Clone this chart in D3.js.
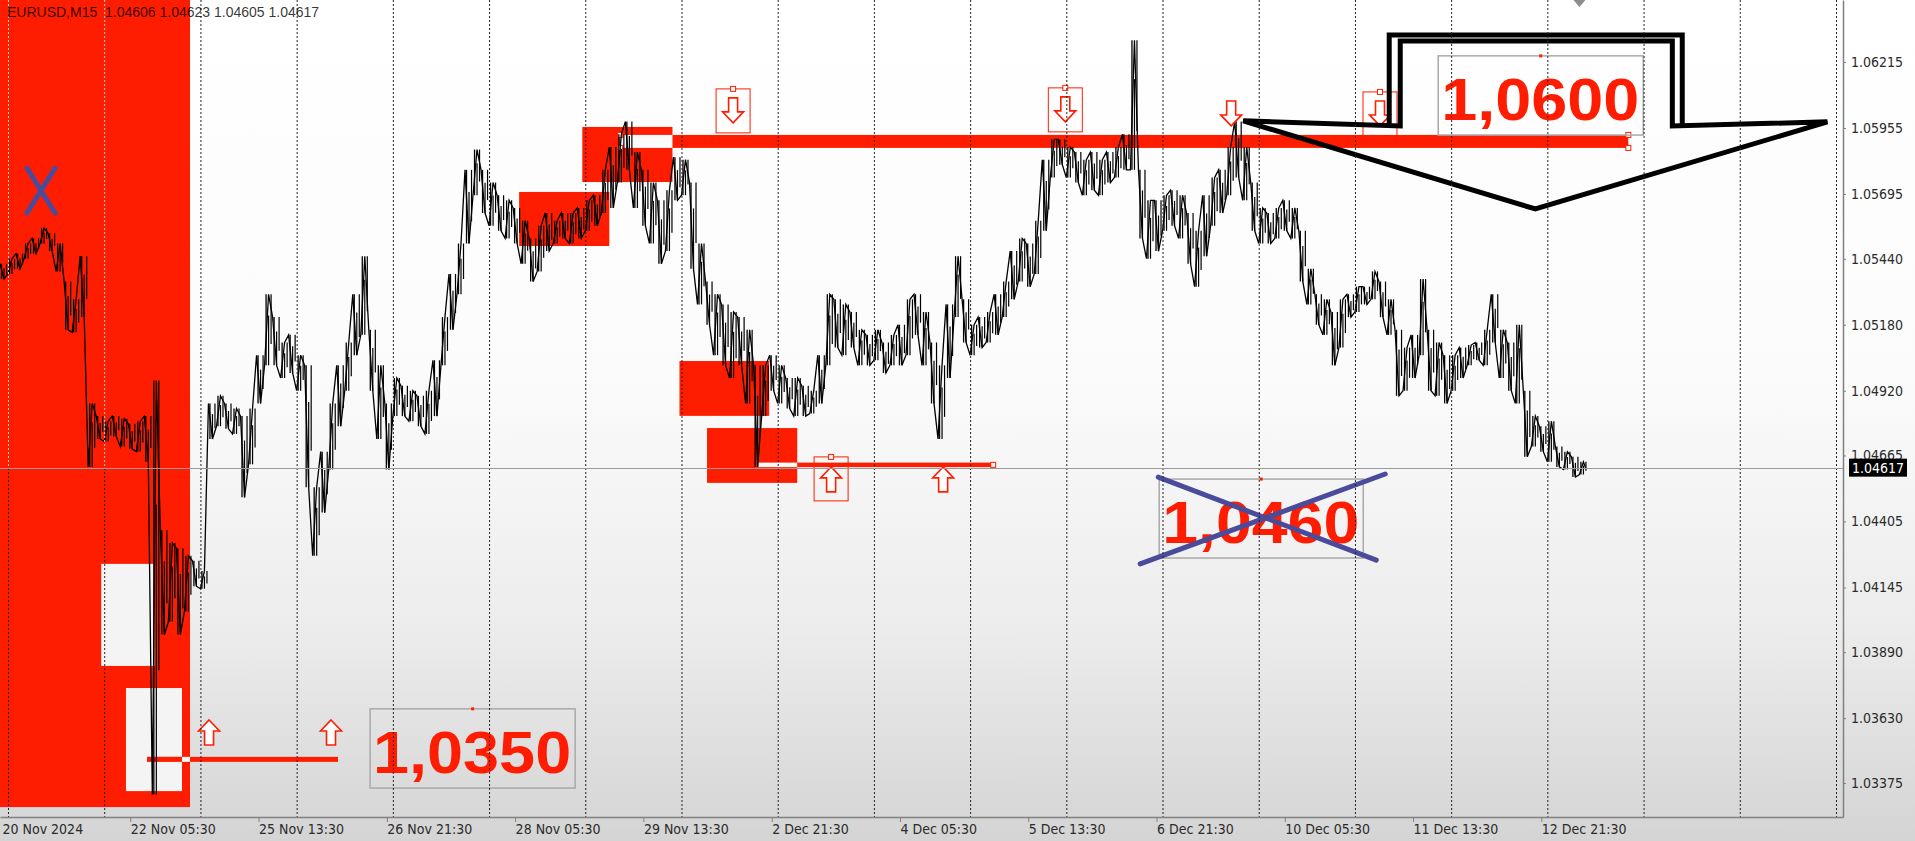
<!DOCTYPE html>
<html><head><meta charset="utf-8">
<script src="https://cdn.jsdelivr.net/npm/d3@7"></script>
<style>html,body{margin:0;padding:0;background:#fff;overflow:hidden}</style>
</head><body><svg id="c" width="1915" height="841"></svg>
<script>
// ---------------- DATA ----------------
const headerText = "EURUSD,M15  1.04606 1.04623 1.04605 1.04617";
const barStep = 8;            // M15 bars between samples
const highs = [
1.0542,1.0544,1.0546,1.0550,1.0552,1.0556,1.0554,1.0550,1.0535,1.0528,
1.0545,1.0487,1.0482,1.0480,1.0482,1.0481,1.0479,1.0480,1.0482,1.0496,
1.0437,1.0432,1.0430,1.0427,1.0425,1.0421,1.0487,1.0490,1.0487,1.0485,
1.0482,1.0485,1.0506,1.0530,1.0521,1.0511,1.0514,1.0506,1.0502,1.0454,
1.0468,1.0487,1.0502,1.0511,1.0530,1.0545,1.0516,1.0502,1.0487,1.0497,
1.0494,1.0492,1.0490,1.0492,1.0504,1.0521,1.0538,1.0550,1.0579,1.0587,
1.0579,1.0574,1.0569,1.0567,1.0564,1.0559,1.0552,1.0557,1.0562,1.0559,
1.0562,1.0562,1.0564,1.0567,1.0569,1.0579,1.0588,1.0593,1.0598,1.0586,
1.0579,1.0574,1.0567,1.0571,1.0584,1.0583,1.0574,1.0550,1.0535,1.0530,
1.0526,1.0523,1.0521,1.0516,1.0502,1.0502,1.0506,1.0502,1.0497,1.0497,
1.0494,1.0492,1.0506,1.0530,1.0528,1.0526,1.0523,1.0516,1.0514,1.0516,
1.0511,1.0514,1.0518,1.0528,1.0530,1.0523,1.0511,1.0502,1.0526,1.0545,
1.0528,1.0518,1.0521,1.0523,1.0530,1.0535,1.0547,1.0552,1.0550,1.0559,
1.0583,1.0591,1.0591,1.0588,1.0586,1.0583,1.0586,1.0583,1.0586,1.0588,
1.0593,1.0630,1.0579,1.0567,1.0567,1.0569,1.0571,1.0569,1.0562,1.0555,
1.0569,1.0576,1.0579,1.0588,1.0598,1.0588,1.0574,1.0564,1.0562,1.0564,
1.0567,1.0564,1.0555,1.0540,1.0530,1.0528,1.0523,1.0528,1.0530,1.0533,
1.0533,1.0539,1.0535,1.0528,1.0516,1.0509,1.0514,1.0536,1.0516,1.0511,
1.0506,1.0506,1.0509,1.0510,1.0511,1.0516,1.0530,1.0516,1.0511,1.0518,
1.0492,1.0482,1.0478,1.0480,1.0470,1.0468,1.0466,1.0464];
const lows = [
1.0536,1.0538,1.0540,1.0544,1.0546,1.0550,1.0547,1.0539,1.0516,1.0515,
1.0521,1.0462,1.0473,1.0472,1.0474,1.0470,1.0469,1.0468,1.0464,1.0333,
1.0396,1.0401,1.0396,1.0405,1.0415,1.0414,1.0473,1.0478,1.0477,1.0475,
1.0450,1.0463,1.0487,1.0502,1.0502,1.0497,1.0499,1.0492,1.0454,1.0427,
1.0444,1.0461,1.0478,1.0492,1.0506,1.0514,1.0492,1.0473,1.0461,1.0482,
1.0482,1.0480,1.0478,1.0475,1.0482,1.0502,1.0516,1.0530,1.0550,1.0569,
1.0562,1.0557,1.0555,1.0552,1.0550,1.0542,1.0535,1.0539,1.0547,1.0550,
1.0552,1.0550,1.0552,1.0555,1.0557,1.0562,1.0564,1.0574,1.0579,1.0564,
1.0557,1.0550,1.0542,1.0547,1.0567,1.0569,1.0540,1.0526,1.0518,1.0506,
1.0502,1.0497,1.0502,1.0487,1.0462,1.0482,1.0492,1.0487,1.0485,1.0482,
1.0482,1.0483,1.0487,1.0502,1.0509,1.0506,1.0509,1.0502,1.0502,1.0504,
1.0499,1.0502,1.0502,1.0506,1.0514,1.0502,1.0487,1.0473,1.0497,1.0521,
1.0511,1.0506,1.0509,1.0511,1.0514,1.0521,1.0528,1.0535,1.0533,1.0538,
1.0555,1.0576,1.0581,1.0576,1.0574,1.0569,1.0571,1.0569,1.0574,1.0576,
1.0579,1.0579,1.0552,1.0544,1.0547,1.0555,1.0557,1.0552,1.0542,1.0533,
1.0545,1.0557,1.0562,1.0569,1.0576,1.0567,1.0555,1.0550,1.0550,1.0552,
1.0555,1.0552,1.0535,1.0526,1.0518,1.0514,1.0502,1.0509,1.0521,1.0523,
1.0526,1.0528,1.0521,1.0514,1.0490,1.0492,1.0497,1.0506,1.0492,1.0490,
1.0487,1.0492,1.0497,1.0502,1.0504,1.0502,1.0511,1.0497,1.0492,1.0487,
1.0466,1.0470,1.0468,1.0464,1.0462,1.0461,1.0458,1.0459];
const lastPrice = 1.04617;
const priceTicks = [1.06215,1.05955,1.05695,1.05440,1.05180,1.04920,1.04665,1.04405,1.04145,1.03890,1.03630,1.03375];
const timeLabels = ["20 Nov 2024","22 Nov 05:30","25 Nov 13:30","26 Nov 21:30","28 Nov 05:30","29 Nov 13:30","2 Dec 21:30","4 Dec 05:30","5 Dec 13:30","6 Dec 21:30","10 Dec 05:30","11 Dec 13:30","12 Dec 21:30"];
const firstLabelBar = 130, barsPerLabel = 128;   // 32h of M15 bars
const firstGridBar = 8, barsPerGrid = 96;         // 24h of M15 bars
const totalBars = 1839;
const priceRange = [1.03241, 1.06459];

// chart objects (time in bars, price)
const redZones = [
  {b0:0, b1:189.6, lo:1.0328, hi:1.0650},
  {b0:518, b1:608, lo:1.05490, hi:1.05703},
  {b0:581, b1:671, lo:1.05742, hi:1.05959},
  {b0:678, b1:767.5, lo:1.04821, hi:1.05037},
  {b0:705.5, b1:795.5, lo:1.04557, hi:1.04773}];
const whiteZones = [
  {b0:101, b1:154.7, lo:1.03836, hi:1.04238},
  {b0:125.7, b1:181.6, lo:1.03343, hi:1.03749}];
const hLines = [
  {b0:146.7, b1:337.3, price:1.03468, w:5},
  {b0:618.8, b1:1624.8, price:1.05902, w:13, handles:true},
  {b0:755.5, b1:991, price:1.04628, w:4.5, handles:true}];
const arrowsDown = [
  {bar:731.5, price:1.05975, boxed:true},
  {bar:1063, price:1.05979, boxed:true},
  {bar:1228.5, price:1.05963, boxed:false},
  {bar:1377, price:1.05963, boxed:true}];
const arrowsUp = [
  {bar:208.6, price:1.03623, boxed:false},
  {bar:330.3, price:1.03623, boxed:false},
  {bar:829.3, price:1.04620, boxed:true},
  {bar:941.1, price:1.04620, boxed:false}];
const textBoxes = [
  {text:"1,0350", b0:369.3, b1:573.9, lo:1.03355, hi:1.03667},
  {text:"1,0600", b0:1435.1, b1:1639.7, lo:1.05927, hi:1.06239},
  {text:"1,0460", b0:1156.7, b1:1360.3, lo:1.04261, hi:1.04572}];
const crossLines = [
  [[26.9,1.05797],[54.9,1.05620]], [[54.9,1.05797],[26.9,1.05620]],
  [[1155.7,1.04580],[1373.3,1.04253]], [[1137.7,1.04238],[1382.2,1.04592]]];
const bigArrowOuter = [[1240.5,1.05983],[1397.2,1.05963],[1397.2,1.06298],[1668.7,1.06298],[1668.7,1.05963],[1823.4,1.05979],[1532,1.05636]];
const bigArrowStem = [[1386.2,1.05963],[1386.2,1.06321],[1678.6,1.06321],[1678.6,1.05963]];

// ---------------- DRAW ----------------
const W=1915, H=841, plotR=1843, plotB=817;
const RED="#ff1d00";
const svg = d3.select('#c');
const x = d3.scaleLinear().domain([0,totalBars]).range([0,plotR]);
const y = d3.scaleLinear().domain(priceRange).range([plotB,0]);

const defs = svg.append('defs');
const lg = defs.append('linearGradient').attr('id','bg').attr('x1',0).attr('y1',0).attr('x2',0).attr('y2',1);
[[0,'#ffffff'],[0.45,'#fbfbfb'],[0.75,'#ececec'],[1,'#d4d4d4']].forEach(s=>lg.append('stop').attr('offset',s[0]).attr('stop-color',s[1]));
defs.append('clipPath').attr('id','clip').append('rect').attr('x',0).attr('y',0).attr('width',plotR).attr('height',plotB);
svg.append('rect').attr('width',W).attr('height',H).attr('fill','url(#bg)');

const g = svg.append('g').attr('clip-path','url(#clip)');
const rp = z => ({x:x(z.b0), y:y(z.hi), w:x(z.b1)-x(z.b0), h:y(z.lo)-y(z.hi)});

redZones.forEach(z=>{const r=rp(z); g.append('rect').attr('x',r.x).attr('y',r.y).attr('width',r.w).attr('height',r.h).attr('fill',RED);});
whiteZones.forEach(z=>{const r=rp(z); g.append('rect').attr('x',r.x).attr('y',r.y).attr('width',r.w).attr('height',r.h).attr('fill','#f4f4f4');});

function inter(a,b){const x0=Math.max(a.x,b.x),x1=Math.min(a.x+a.w,b.x+b.w),y0=Math.max(a.y,b.y),y1=Math.min(a.y+a.h,b.y+b.h);return (x1>x0&&y1>y0)?{x:x0,y:y0,w:x1-x0,h:y1-y0}:null;}
hLines.forEach(l=>{
  const band={x:x(l.b0), y:y(l.price)-l.w/2, w:x(l.b1)-x(l.b0), h:l.w};
  g.append('rect').attr('x',band.x).attr('y',band.y).attr('width',band.w).attr('height',band.h).attr('fill',RED);
  redZones.forEach(z=>{const i=inter(band,rp(z)); if(i) g.append('rect').attr('x',i.x).attr('y',i.y).attr('width',i.w).attr('height',i.h).attr('fill','#fafafa');});
  whiteZones.forEach(z=>{const i=inter(band,rp(z)); if(i) g.append('rect').attr('x',i.x).attr('y',i.y).attr('width',i.w).attr('height',i.h).attr('fill',RED);});
  if(l.handles){
    const hs = l.w>8 ? [[band.x,band.y],[band.x,band.y+band.h],[band.x+band.w,band.y],[band.x+band.w,band.y+band.h]] : [[band.x+band.w,band.y+band.h/2]];
    hs.forEach(p=>g.append('rect').attr('x',p[0]-2.5).attr('y',p[1]-2.5).attr('width',5).attr('height',5).attr('fill','#fff').attr('stroke',RED).attr('stroke-width',1));
  }
});

// price series (sampled high/low pairs)
const samples = highs.map((h,i)=>({bar:i*barStep, hi:h, lo:lows[i]}));
const pts=[];
samples.forEach((s,i)=>{pts.push([s.bar, i%2? s.lo:s.hi]); pts.push([s.bar+barStep/2, i%2? s.hi:s.lo]);});
pts.push([samples[samples.length-1].bar+barStep*0.75, lastPrice]);
g.append('path').attr('d', d3.line().x(d=>x(d[0])).y(d=>y(d[1]))(pts)).attr('fill','none').attr('stroke','#000').attr('stroke-width',1.3);
const bars = g.append('g').attr('stroke','#000');
samples.forEach(s=>{
  const yh=y(s.hi), yl=y(s.lo), r=yl-yh;
  bars.append('line').attr('x1',x(s.bar+1.5)).attr('x2',x(s.bar+1.5)).attr('y1',yh).attr('y2',yl).attr('stroke-width',1.3);
  bars.append('line').attr('x1',x(s.bar+4)).attr('x2',x(s.bar+4)).attr('y1',yh+r*0.3).attr('y2',yl).attr('stroke-width',1.2);
  bars.append('line').attr('x1',x(s.bar+6.5)).attr('x2',x(s.bar+6.5)).attr('y1',yh).attr('y2',yl-r*0.3).attr('stroke-width',1.2);
});

// arrows
function arrow(a, dir){
  const s = dir==='up'?1:-1;
  const ax=x(a.bar), ay=y(a.price);
  const shape=[[0,0],[10.5,11],[4.5,11],[4.5,25],[-4.5,25],[-4.5,11],[-10.5,11]].map(p=>[ax+p[0], ay+s*p[1]]);
  if(a.boxed){
    const by = dir==='up'? ay-10 : ay-34;
    g.append('rect').attr('x',ax-17).attr('y',by).attr('width',34).attr('height',44).attr('fill','none').attr('stroke',RED).attr('stroke-width',1);
    g.append('rect').attr('x',ax-2.5).attr('y',by-2.5).attr('width',5).attr('height',5).attr('fill','#fff').attr('stroke',RED).attr('stroke-width',1);
  }
  g.append('path').attr('d', d3.line()(shape)+'Z').attr('fill','#fff').attr('stroke',RED).attr('stroke-width',1.6);
}
arrowsDown.forEach(a=>arrow(a,'down'));
arrowsUp.forEach(a=>arrow(a,'up'));

// text boxes
textBoxes.forEach(t=>{
  const r=rp(t);
  g.append('rect').attr('x',r.x).attr('y',r.y).attr('width',r.w).attr('height',r.h).attr('fill','none').attr('stroke','#a9a9a9').attr('stroke-width',1.5);
  g.append('rect').attr('x',r.x+r.w/2-1.5).attr('y',r.y-1.5).attr('width',3).attr('height',3).attr('fill',RED);
  g.append('text').attr('x',r.x+3).attr('y',r.y+r.h-15.5).attr('textLength',r.w-7).attr('lengthAdjust','spacingAndGlyphs')
    .attr('font-family','Liberation Sans, Arial, sans-serif').attr('font-weight','bold').attr('font-size',60).attr('fill',RED).text(t.text);
});

// big black arrow
g.append('path').attr('d', d3.line().x(d=>x(d[0])).y(d=>y(d[1]))(bigArrowOuter)+'Z').attr('fill','none').attr('stroke','#000').attr('stroke-width',5).attr('stroke-linejoin','miter');
g.append('path').attr('d', d3.line().x(d=>x(d[0])).y(d=>y(d[1]))(bigArrowStem)).attr('fill','none').attr('stroke','#000').attr('stroke-width',5).attr('stroke-linejoin','miter');

// blue crosses
crossLines.forEach(l=>g.append('line').attr('x1',x(l[0][0])).attr('y1',y(l[0][1])).attr('x2',x(l[1][0])).attr('y2',y(l[1][1]))
  .attr('stroke','#4a4b9b').attr('stroke-width',5).attr('stroke-linecap','round'));

// grid
const gridBars = d3.range(firstGridBar, totalBars, barsPerGrid);
g.selectAll('line.grid').data(gridBars).enter().append('line')
  .attr('x1',d=>x(d)+0.5).attr('x2',d=>x(d)+0.5).attr('y1',0).attr('y2',plotB)
  .attr('stroke','#222').attr('stroke-width',1).attr('stroke-dasharray','2,2');
const rz=redZones[0];
g.selectAll('line.gridl').data(gridBars.filter(b=>b>=rz.b0&&b<=rz.b1)).enter().append('line')
  .attr('x1',d=>x(d)+0.5).attr('x2',d=>x(d)+0.5).attr('y1',0).attr('y2',y(lastPrice))
  .attr('stroke','#d8d8d8').attr('stroke-width',1).attr('stroke-dasharray','2,2');

// current price line
g.append('line').attr('x1',0).attr('x2',plotR).attr('y1',Math.round(y(lastPrice))+0.5).attr('y2',Math.round(y(lastPrice))+0.5).attr('stroke','#9a9a9a').attr('stroke-width',1);

// chart shift marker
svg.append('path').attr('d',`M${x(1576)-6},0L${x(1576)+6},0L${x(1576)},7Z`).attr('fill','#8c8c8c');

// header
svg.append('text').attr('x',7).attr('y',17).attr('font-family','Liberation Sans, Arial, sans-serif').attr('font-size',14)
  .attr('fill','#000').attr('fill-opacity',0.8).attr('xml:space','preserve').style('white-space','pre').text(headerText);

// axes
const font='DejaVu Sans Condensed, Liberation Sans, sans-serif';
const yAxis = d3.axisRight(y).tickValues(priceTicks).tickFormat(d3.format('.5f')).tickSize(3).tickSizeOuter(0).tickPadding(5);
const ya = svg.append('g').attr('transform',`translate(${plotR},0)`).call(yAxis);
ya.select('.domain').attr('stroke','#808080').attr('stroke-width',1.5);
ya.selectAll('line').attr('stroke','#808080');
ya.selectAll('text').attr('font-family',font).attr('font-size',14).attr('fill','#2b2b2b');

const labelBars = timeLabels.map((_,i)=> i===0 ? 0 : firstLabelBar + (i-1)*barsPerLabel);
const xAxis = d3.axisBottom(x).tickValues(labelBars).tickFormat((d,i)=>timeLabels[i]).tickSize(5).tickSizeOuter(0).tickPadding(2);
const xa = svg.append('g').attr('transform',`translate(0,${plotB})`).call(xAxis);
xa.select('.domain').attr('stroke','#808080').attr('stroke-width',1.5);
xa.selectAll('line').attr('stroke','#808080');
xa.selectAll('.tick').filter(d=>d===0).select('line').remove();
xa.selectAll('text').attr('font-family',font).attr('font-size',14).attr('fill','#2b2b2b').attr('text-anchor','start').attr('dx',d=>d===0?2:0);

// current price label
const cy = y(lastPrice);
svg.append('rect').attr('x',plotR+6).attr('y',cy-9).attr('width',58).attr('height',18).attr('fill','#000');
svg.append('text').attr('x',plotR+9).attr('y',cy).attr('dy','0.35em').attr('font-family',font).attr('font-size',14).attr('fill','#fff').text(d3.format('.5f')(lastPrice));
</script></body></html>
